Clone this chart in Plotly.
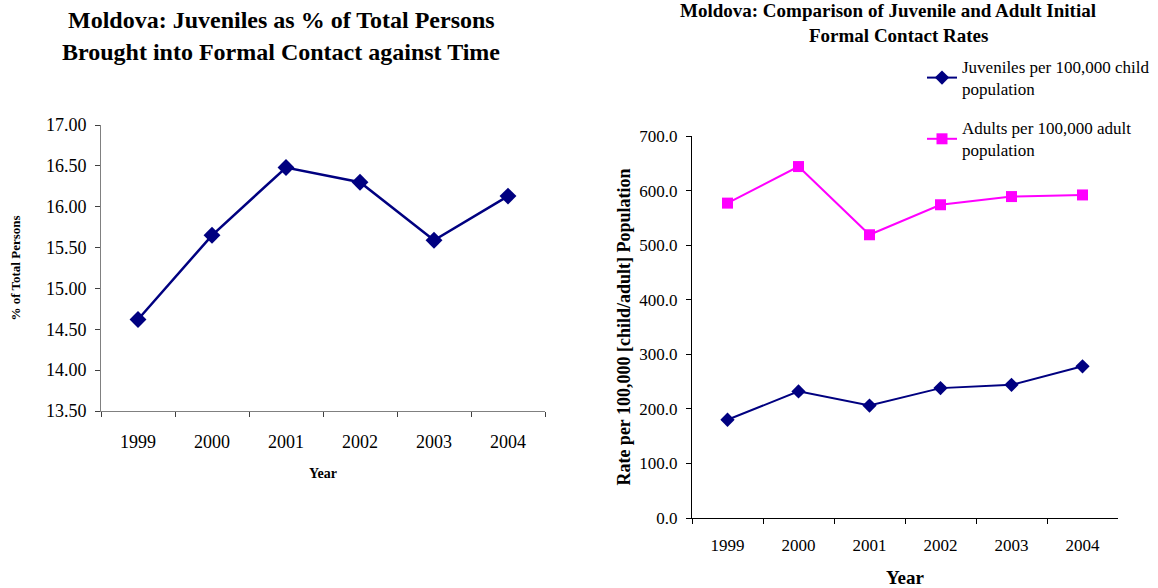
import plotly.graph_objects as go

# Data
years = ["1999", "2000", "2001", "2002", "2003", "2004"]
juvenile_share_pct = [14.62, 15.65, 16.48, 16.30, 15.59, 16.13]
juvenile_rate = [180, 232, 206, 238, 244, 278]
adult_rate = [577, 644, 519, 574, 589, 592]

W, H = 1158, 588
NAVY = "#000080"
MAGENTA = "#FF00FF"
FONT = "Liberation Serif"


def px_x(a, b):
    return [a / W, b / W]


def px_y(top, bottom):
    return [1 - bottom / H, 1 - top / H]


fig = go.Figure()

# Left panel: juveniles as % of total persons
fig.add_trace(go.Scatter(
    x=years, y=juvenile_share_pct, mode="lines+markers",
    line=dict(color=NAVY, width=2.5),
    marker=dict(symbol="diamond", size=13, color=NAVY),
    xaxis="x", yaxis="y", showlegend=False,
))

# Right panel: juvenile and adult contact rates
fig.add_trace(go.Scatter(
    x=years, y=juvenile_rate, mode="lines+markers",
    name="Juveniles per 100,000 child<br>population",
    line=dict(color=NAVY, width=2),
    marker=dict(symbol="diamond", size=11, color=NAVY),
    xaxis="x2", yaxis="y2", legendgroup="a",
))
fig.add_trace(go.Scatter(
    x=years, y=adult_rate, mode="lines+markers",
    name="Adults per 100,000 adult<br>population",
    line=dict(color=MAGENTA, width=2),
    marker=dict(symbol="square", size=11, color=MAGENTA),
    xaxis="x2", yaxis="y2", legendgroup="b",
))

axis_common = dict(
    showgrid=False, zeroline=False, ticks="outside", ticklen=5,
    automargin=False,
)

fig.update_layout(
    width=W, height=H,
    margin=dict(l=0, r=0, t=0, b=0),
    paper_bgcolor="white", plot_bgcolor="white",
    font=dict(family=FONT, color="black"),
    xaxis=dict(
        domain=px_x(101, 545), anchor="y", type="category",
        range=[-0.5, 5.5], tickson="boundaries",
        showline=True, linecolor="#808080", tickcolor="#404040",
        tickfont=dict(family=FONT, size=18, color="black"),
        ticklabelstandoff=14,
        title=dict(text="<b>Year</b>", font=dict(size=14), standoff=17),
        **axis_common,
    ),
    yaxis=dict(
        domain=px_y(125, 411), anchor="x",
        range=[13.5, 17.0], dtick=0.5, tickformat=".2f",
        showline=True, linecolor="#808080", tickcolor="#404040",
        tickfont=dict(family=FONT, size=18, color="black"),
        ticklabelstandoff=5,
        title=dict(text="<b>% of Total Persons</b>", font=dict(size=13), standoff=22),
        **axis_common,
    ),
    xaxis2=dict(
        domain=px_x(692, 1118), anchor="y2", type="category",
        range=[-0.5, 5.5], tickson="boundaries",
        showline=True, linecolor="black", tickcolor="black",
        tickfont=dict(family=FONT, size=17, color="black"),
        ticklabelstandoff=12,
        title=dict(text="<b>Year</b>", font=dict(size=19), standoff=17),
        **axis_common,
    ),
    yaxis2=dict(
        domain=px_y(136, 518), anchor="x2",
        range=[0, 700], dtick=100, tickformat=".1f",
        showline=True, linecolor="black", tickcolor="black",
        tickfont=dict(family=FONT, size=17, color="black"),
        ticklabelstandoff=5,
        title=dict(text="<b>Rate per 100,000 [child/adult] Population</b>",
                   font=dict(size=18), standoff=4),
        **axis_common,
    ),
    legend=dict(
        x=922 / W, y=1 - 49 / H, xanchor="left", yanchor="top",
        font=dict(family=FONT, size=17, color="black"),
        traceorder="grouped", tracegroupgap=14,
        bgcolor="rgba(0,0,0,0)", itemwidth=30,
    ),
    annotations=[
        dict(text="<b>Moldova: Juveniles as % of Total Persons</b>",
             x=281 / W, y=1 - 20 / H, xref="paper", yref="paper",
             xanchor="center", yanchor="middle", showarrow=False,
             font=dict(family=FONT, size=24, color="black")),
        dict(text="<b>Brought into Formal Contact against Time</b>",
             x=281 / W, y=1 - 52 / H, xref="paper", yref="paper",
             xanchor="center", yanchor="middle", showarrow=False,
             font=dict(family=FONT, size=24, color="black")),
        dict(text="<b>Moldova: Comparison of Juvenile and Adult Initial</b>",
             x=888 / W, y=1 - 11 / H, xref="paper", yref="paper",
             xanchor="center", yanchor="middle", showarrow=False,
             font=dict(family=FONT, size=19, color="black")),
        dict(text="<b>Formal Contact Rates</b>",
             x=898 / W, y=1 - 35 / H, xref="paper", yref="paper",
             xanchor="center", yanchor="middle", showarrow=False,
             font=dict(family=FONT, size=19, color="black")),
    ],
)

fig.write_html("out.html")
